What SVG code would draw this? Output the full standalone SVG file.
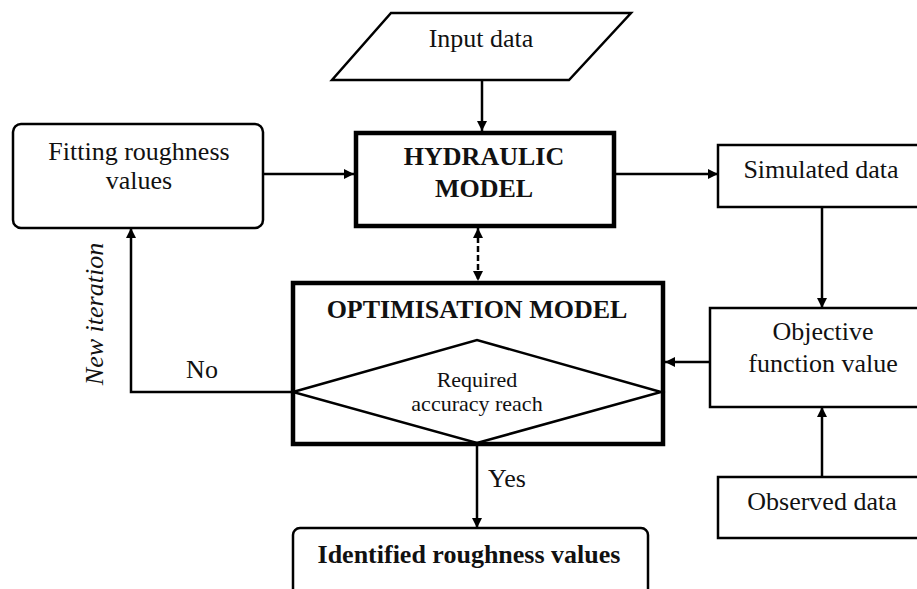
<svg xmlns="http://www.w3.org/2000/svg" width="917" height="589" viewBox="0 0 917 589">
<defs>
<style>
text{font-family:"Liberation Serif","Times New Roman",serif;fill:#111;text-anchor:middle}
.t{font-size:26px}
.s{font-size:22px}
.b{font-size:26px;font-weight:bold}
.box{fill:#fff;stroke:#000;stroke-width:2.5}
.thick{fill:#fff;stroke:#000;stroke-width:4.5}
.ln{fill:none;stroke:#000;stroke-width:2.5}
</style>
<marker id="ah" viewBox="0 0 10 10" refX="10" refY="5" markerWidth="12" markerHeight="10" markerUnits="userSpaceOnUse" orient="auto-start-reverse">
<path d="M0,0 L10,5 L0,10 z" fill="#000"/>
</marker>
</defs>
<rect width="917" height="589" fill="#fff"/>
<g id="input">
<polygon class="box" points="391,13 631,13 569,80 332,80"/>
<text class="t" x="481" y="47">Input data</text>
</g>
<g id="fitting">
<rect class="box" x="13" y="124" width="250" height="104" rx="8"/>
<text class="t" x="139" y="160">Fitting roughness</text>
<text class="t" x="139" y="189">values</text>
</g>
<g id="hydraulic">
<rect class="thick" x="356" y="133" width="258" height="93"/>
<text class="b" x="484" y="165">HYDRAULIC</text>
<text class="b" x="484" y="197">MODEL</text>
</g>
<g id="simulated">
<rect class="box" x="718" y="145" width="220" height="62"/>
<text class="t" x="821" y="178">Simulated data</text>
</g>
<g id="objective">
<rect class="box" x="710" y="308" width="228" height="99"/>
<text class="t" x="823" y="340">Objective</text>
<text class="t" x="823" y="372">function value</text>
</g>
<g id="observed">
<rect class="box" x="718" y="477" width="220" height="61"/>
<text class="t" x="822" y="510">Observed data</text>
</g>
<g id="optimisation">
<rect class="thick" x="293" y="283" width="370" height="161"/>
<text class="b" x="477" y="318">OPTIMISATION MODEL</text>
<polygon fill="none" stroke="#000" stroke-width="2.5" points="293,392 477,340 661,392 477,443"/>
<text class="s" x="477" y="387">Required</text>
<text class="s" x="477" y="411">accuracy reach</text>
</g>
<g id="identified">
<rect class="box" x="293" y="528" width="355" height="80" rx="7"/>
<text class="b" x="469" y="563">Identified roughness values</text>
</g>
<g id="connectors">
<line class="ln" x1="482" y1="80" x2="482" y2="131" marker-end="url(#ah)"/>
<line class="ln" x1="263" y1="174" x2="354" y2="174" marker-end="url(#ah)"/>
<line class="ln" x1="616" y1="174" x2="718" y2="174" marker-end="url(#ah)"/>
<line class="ln" x1="822" y1="207" x2="822" y2="308" marker-end="url(#ah)"/>
<line class="ln" x1="822" y1="477" x2="822" y2="407" marker-end="url(#ah)"/>
<line class="ln" x1="710" y1="362" x2="665" y2="362" marker-end="url(#ah)"/>
<line class="ln" x1="478" y1="228" x2="478" y2="281" stroke-dasharray="6,3" marker-start="url(#ah)" marker-end="url(#ah)"/>
<polyline class="ln" points="293,392 131,392 131,228" marker-end="url(#ah)"/>
<line class="ln" x1="477" y1="444" x2="477" y2="528" marker-end="url(#ah)"/>
<text class="t" x="202" y="378">No</text>
<text class="t" x="507" y="487">Yes</text>
<text class="t" font-style="italic" transform="translate(103,314) rotate(-90)">New iteration</text>
</g>
</svg>
